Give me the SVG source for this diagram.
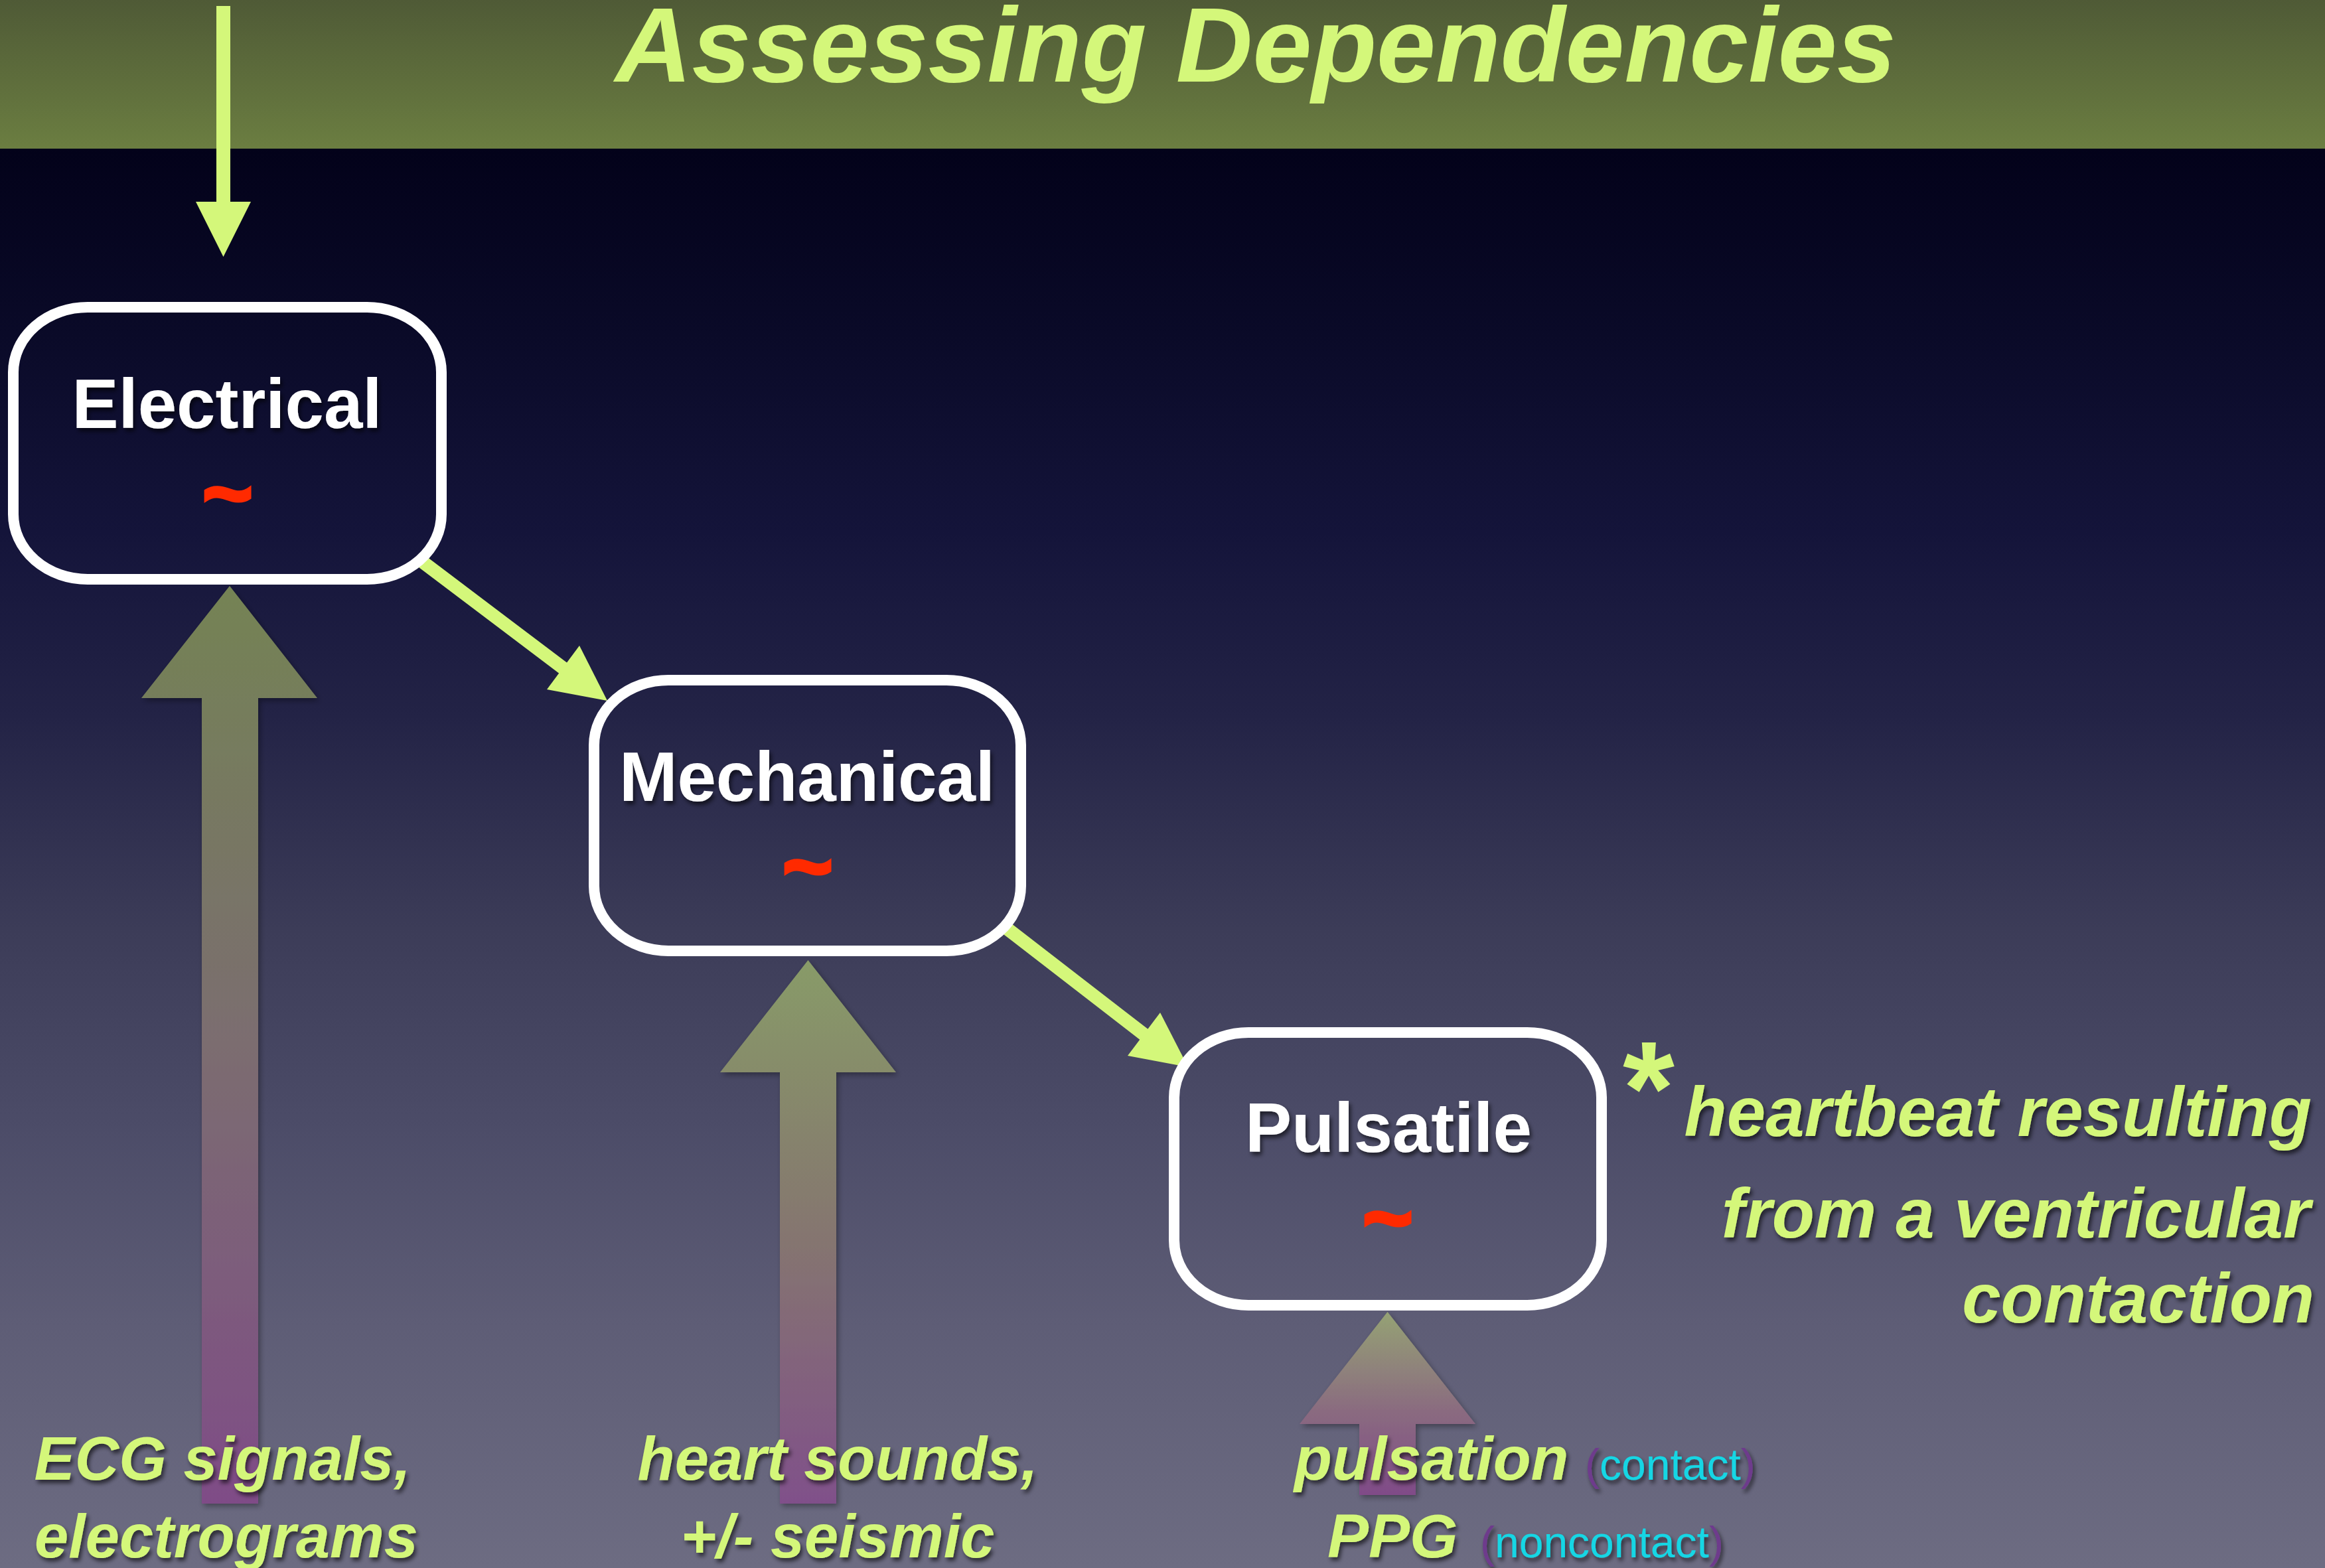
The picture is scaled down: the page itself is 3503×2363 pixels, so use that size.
<svg xmlns="http://www.w3.org/2000/svg" width="3503" height="2363" viewBox="0 0 3503 2363">
<defs>
<linearGradient id="bg" x1="0" y1="224" x2="0" y2="2363" gradientUnits="userSpaceOnUse">
<stop offset="0" stop-color="#03021a"/>
<stop offset="0.13" stop-color="#0a0a28"/>
<stop offset="0.27" stop-color="#14143a"/>
<stop offset="0.4" stop-color="#232346"/>
<stop offset="0.55" stop-color="#3c3c58"/>
<stop offset="0.69" stop-color="#4c4c68"/>
<stop offset="0.83" stop-color="#5e5d76"/>
<stop offset="1" stop-color="#6d6c82"/>
</linearGradient>
<linearGradient id="hdr" x1="0" y1="0" x2="0" y2="1">
<stop offset="0" stop-color="#4f5a36"/>
<stop offset="1" stop-color="#6b7e41"/>
</linearGradient>
<linearGradient id="upE" x1="0" y1="0" x2="0" y2="1">
<stop offset="0" stop-color="#748354"/>
<stop offset="0.5" stop-color="#7b6d70"/>
<stop offset="1" stop-color="#7f4c87"/>
</linearGradient>
<linearGradient id="upM" x1="0" y1="0" x2="0" y2="1">
<stop offset="0" stop-color="#889b68"/>
<stop offset="0.5" stop-color="#85766f"/>
<stop offset="1" stop-color="#80508a"/>
</linearGradient>
<linearGradient id="upP" x1="0" y1="0" x2="0" y2="1">
<stop offset="0" stop-color="#95a274"/>
<stop offset="0.55" stop-color="#8a6a80"/>
<stop offset="1" stop-color="#804b88"/>
</linearGradient>
<filter id="ts" x="-10%" y="-20%" width="130%" height="160%">
<feDropShadow dx="3" dy="5" stdDeviation="3" flood-color="#000" flood-opacity="0.6"/>
</filter>
<filter id="as" x="-20%" y="-5%" width="140%" height="110%">
<feDropShadow dx="3" dy="4" stdDeviation="4" flood-color="#000" flood-opacity="0.35"/>
</filter>
<style>
.box{fill:none;stroke:#ffffff;stroke-width:16}
.lbl{font-family:"Liberation Sans",Arial,sans-serif;font-weight:bold;font-size:105px;fill:#ffffff;text-anchor:middle}
.tl{font-family:"Liberation Sans",Arial,sans-serif;font-weight:bold;font-size:130px;fill:#ff2a00;stroke:#ff2a00;stroke-width:5;text-anchor:middle}
.yg{fill:#d4f77a}
.it{font-family:"Liberation Sans",Arial,sans-serif;font-weight:bold;font-style:italic;fill:#d4f77a}
.cy{font-family:"Liberation Sans",Arial,sans-serif;font-size:66px;fill:#12d6e4}
.pr{fill:#6e3a8c}
</style>
</defs>
<rect x="0" y="0" width="3503" height="2363" fill="url(#bg)"/>
<rect x="0" y="0" width="3503" height="224" fill="url(#hdr)"/>
<text x="927" y="123" class="it" font-size="160">Assessing Dependencies</text>

<g id="inputs">
<path d="M346,883 L478,1052 L389,1052 L389,2266 L304,2266 L304,1052 L213,1052 Z" fill="url(#upE)" filter="url(#as)"/>
<path d="M1217.5,1447 L1350,1616 L1260,1616 L1260,2266 L1175,2266 L1175,1616 L1085,1616 Z" fill="url(#upM)" filter="url(#as)"/>
<path d="M2090.5,1977 L2223,2146 L2133,2146 L2133,2253 L2048,2253 L2048,2146 L1958,2146 Z" fill="url(#upP)" filter="url(#as)"/>
</g>

<g id="connectors">
<line x1="336.5" y1="9" x2="336.5" y2="306" stroke="#d4f77a" stroke-width="21"/>
<polygon points="295,304 378,304 336.5,387" class="yg"/>
<line x1="637" y1="847" x2="850" y2="1008" stroke="#d4f77a" stroke-width="20"/>
<polygon points="873,973 915,1056 824,1039" class="yg"/>
<line x1="1518" y1="1400" x2="1725" y2="1560" stroke="#d4f77a" stroke-width="20"/>
<polygon points="1748,1526 1790,1608 1699,1591" class="yg"/>
</g>

<g id="electrical">
<rect x="20" y="463" width="645" height="410" rx="112" ry="98" class="box"/>
<text x="342" y="645" class="lbl" filter="url(#ts)">Electrical</text>
<text x="343" y="788" class="tl">~</text>
</g>

<g id="mechanical">
<rect x="895" y="1025" width="643" height="408" rx="112" ry="98" class="box"/>
<text x="1216" y="1207" class="lbl" filter="url(#ts)">Mechanical</text>
<text x="1217" y="1350" class="tl">~</text>
</g>

<g id="pulsatile">
<rect x="1769" y="1556" width="644" height="411" rx="112" ry="98" class="box"/>
<text x="2092" y="1736" class="lbl" filter="url(#ts)">Pulsatile</text>
<text x="2091" y="1880" class="tl">~</text>
</g>

<g id="note">
<text x="2484" y="1709" font-family="Liberation Sans, Arial, sans-serif" font-weight="bold" font-size="200" fill="#d4f77a" text-anchor="middle">*</text>
<text class="it" font-size="105" text-anchor="end" filter="url(#ts)">
<tspan x="3512" y="1712">heartbeat resulting</tspan>
<tspan x="3510" y="1865">from a ventricular</tspan>
<tspan x="3487" y="1993">contaction</tspan>
</text>
</g>

<g id="labels" filter="url(#ts)">
<text class="it" font-size="92" text-anchor="middle">
<tspan x="348" y="2230">ECG signals,</tspan>
<tspan x="341" y="2347">electrograms</tspan>
</text>
<text class="it" font-size="92" text-anchor="middle">
<tspan x="1275" y="2230">heart sounds,</tspan>
<tspan x="1262" y="2347">+/- seismic</tspan>
</text>
<text x="1950" y="2230" class="it" font-size="93">pulsation</text>
<text x="2388" y="2230" class="cy"><tspan class="pr">(</tspan>contact<tspan class="pr">)</tspan></text>
<text x="2000" y="2347" class="it" font-size="93">PPG</text>
<text x="2230" y="2347" class="cy"><tspan class="pr">(</tspan>noncontact<tspan class="pr">)</tspan></text>
</g>
</svg>
